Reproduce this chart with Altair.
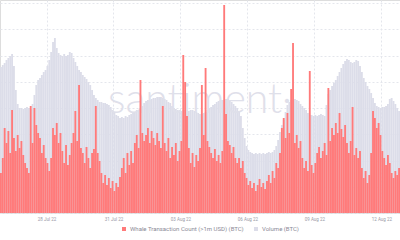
import altair as alt
import pandas as pd

# 2-hour bars, 25 Jul 2022 22:00 -> 12 Aug 2022 20:00
start_time = "2022-07-25 22:00"
n_bars = 215

# Volume (BTC), thousands
volume_kbtc = [
    146, 148, 150, 153, 155, 157, 159, 147, 123, 109,
    105, 105, 104, 105, 106, 105, 104, 109, 118, 128,
    133, 135, 138, 141, 143, 147, 153, 161, 171, 175,
    165, 160, 158, 157, 159, 157, 158, 161, 160, 155,
    151, 147, 143, 141, 138, 136, 134, 131, 128, 123,
    118, 115, 113, 111, 111, 110, 110, 109, 108, 106,
    103, 101, 98, 97, 95, 96, 95, 97, 96, 98,
    99, 101, 101, 103, 103, 105, 107, 110, 112, 113,
    113, 114, 115, 115, 116, 116, 116, 115, 114, 113,
    111, 110, 107, 105, 104, 103, 103, 102, 103, 103,
    103, 102, 103, 103, 102, 101, 100, 99, 99, 100,
    101, 103, 105, 106, 108, 109, 111, 112, 113, 113,
    113, 114, 114, 113, 111, 109, 107, 105, 101, 97,
    85, 75, 67, 63, 61, 60, 59, 60, 59, 60,
    59, 60, 59, 60, 61, 60, 61, 63, 67, 73,
    81, 88, 93, 101, 108, 111, 113, 113, 114, 113,
    112, 109, 107, 105, 103, 100, 98, 98, 97, 98,
    97, 98, 99, 98, 97, 108, 119, 123, 127, 130,
    133, 137, 141, 145, 149, 152, 154, 153, 151, 150,
    151, 153, 152, 147, 141, 135, 131, 127, 124, 120,
    115, 110, 107, 106, 105, 106, 106, 107, 109, 114,
    115, 112, 109, 105, 102,
]

# Whale Transaction Count (>1m USD)
whale_count = [
    40, 55, 85, 70, 82, 60, 103, 75, 62, 78,
    65, 72, 58, 50, 45, 40, 107, 70, 105, 88,
    80, 75, 60, 68, 55, 50, 42, 55, 85, 78,
    90, 70, 80, 62, 50, 68, 48, 58, 70, 80,
    102, 72, 128, 65, 60, 50, 66, 55, 45, 60,
    64, 107, 60, 52, 40, 30, 38, 28, 35, 25,
    32, 22, 30, 26, 36, 45, 55, 40, 60, 48,
    62, 50, 70, 78, 65, 133, 80, 72, 78, 85,
    70, 82, 75, 68, 80, 72, 65, 107, 70, 62,
    75, 55, 66, 58, 70, 52, 62, 72, 158, 131,
    97, 65, 50, 60, 46, 58, 52, 65, 128, 78,
    145, 72, 66, 60, 55, 64, 52, 58, 50, 62,
    208, 99, 72, 68, 60, 66, 55, 50, 55, 45,
    52, 40, 35, 28, 32, 25, 30, 22, 28, 34,
    26, 30, 24, 32, 38, 30, 42, 35, 50, 45,
    60, 85, 95, 75, 100, 80, 124, 170, 70, 78,
    65, 72, 55, 45, 52, 42, 142, 48, 40, 50,
    60, 66, 55, 62, 70, 58, 125, 72, 85, 78,
    90, 80, 100, 84, 76, 88, 70, 60, 72, 106,
    58, 65, 55, 62, 45, 35, 42, 30, 38, 60,
    102, 95, 85, 90, 78, 62, 55, 48, 58, 50,
    40, 35, 42, 38, 45,
]

tick_dates = ["2022-07-28", "2022-07-31", "2022-08-03", "2022-08-06", "2022-08-09", "2022-08-12"]
series_names = ["Whale Transaction Count (>1m USD) (BTC)", "Volume (BTC)"]
series_colors = ["#ff7a7a", "#dcdde9"]

t0 = pd.date_range(start=start_time, periods=n_bars, freq="2h")
df = pd.DataFrame({
    "t": t0,
    "t2": t0 + pd.Timedelta(hours=2),
    "volume": volume_kbtc,
    "whale": whale_count,
})

x_dom = [pd.Timestamp(start_time).isoformat(),
         (pd.Timestamp(start_time) + pd.Timedelta(hours=2 * n_bars)).isoformat()]

color_scale = alt.Scale(domain=series_names, range=series_colors)
legend = alt.Legend(
    title=None, orient="none", legendX=121, legendY=226, direction="horizontal",
    symbolType="square", symbolSize=16, symbolStrokeWidth=0,
    labelFontSize=6, labelColor="#8a8a96", labelFont="Roboto", columnPadding=9,
    labelOffset=3,
)

xenc = alt.X("t:T", scale=alt.Scale(domain=x_dom),
             axis=alt.Axis(values=tick_dates, format="%d %b %y", title=None,
                           labelFontSize=4.5, labelColor="#9a9aa6", labelFont="Roboto",
                           labelPadding=3, ticks=False, domain=False,
                           grid=True, gridDash=[2, 2], gridColor="#e4e6ec"))

grid_vals = [i * 26.25 for i in range(9)]

vol = alt.Chart(df).transform_calculate(series="'Volume (BTC)'").mark_bar(stroke=None).encode(
    x=xenc,
    x2="t2:T",
    y=alt.Y("volume:Q", scale=alt.Scale(domain=[0, 213], nice=False, zero=True),
            axis=alt.Axis(values=grid_vals, labels=False, ticks=False, domain=False,
                          title=None, grid=True, gridDash=[2, 2], gridColor="#e4e6ec")),
    y2=alt.datum(0),
    color=alt.Color("series:N", scale=color_scale, legend=legend),
)

wm = alt.Chart(pd.DataFrame({"w": ["santiment·"]})).mark_text(
    fontSize=41, font="Lato", fontWeight=300, color="#dfe0ea", align="center", baseline="alphabetic"
).encode(x=alt.value(200), y=alt.value(113), text="w:N")

whale = alt.Chart(df).transform_calculate(series="'Whale Transaction Count (>1m USD) (BTC)'").mark_bar(stroke=None).encode(
    x="t:T",
    x2="t2:T",
    y=alt.Y("whale:Q", scale=alt.Scale(domain=[0, 213], nice=False, zero=True), axis=None),
    y2=alt.datum(0),
    color=alt.Color("series:N", scale=color_scale, legend=legend),
)

chart = alt.layer(vol, wm, whale).resolve_scale(y="independent").properties(
    width=400, height=213,
    padding={"left": 0, "right": 0, "top": 0, "bottom": 27},
    autosize=alt.AutoSizeParams(type="none"),
).configure_view(stroke=None).configure(background="white")

chart.save("out.html", embed_options={"renderer": "svg", "actions": False})
